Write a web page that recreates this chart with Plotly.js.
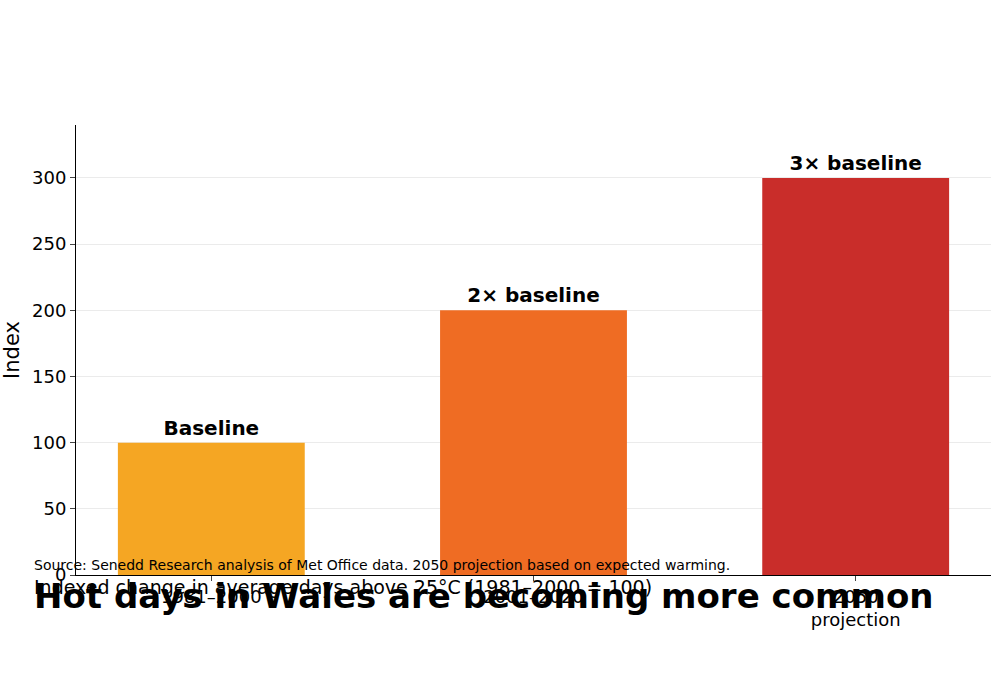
<!DOCTYPE html>
<html><head><meta charset="utf-8">
<script src="https://cdn.plot.ly/plotly-3.0.1.min.js"></script>
<style>body{margin:0}</style></head>
<body><div id="c" style="width:1000px;height:678px"></div>
<script>
const categories = ["1981–2000", "2001–2020", "2050<br>projection"];
const values = [100, 200, 300];
const labels = ["Baseline", "2× baseline", "3× baseline"];
const colors = ["#F5A623", "#EF6C23", "#C92D2A"];
const F = "DejaVu Sans, sans-serif";
Plotly.newPlot("c", [{
  type: "bar", x: categories, y: values, width: 0.58,
  marker: {color: colors},
  text: labels, textposition: "outside", cliponaxis: false,
  textfont: {family: F, size: 20, color: "#000", weight: "bold"},
  hoverinfo: "none"
}], {
  width: 1000, height: 678,
  margin: {l: 76, r: 9, t: 125, b: 103},
  paper_bgcolor: "#fff", plot_bgcolor: "#fff",
  font: {family: F, color: "#000"},
  showlegend: false,
  xaxis: {range: [-0.42, 2.42], showline: true, linecolor: "#000", ticks: "outside", ticklen: 5,
    tickfont: {size: 18}, showgrid: false},
  yaxis: {range: [0, 340], showline: true, linecolor: "#000", ticks: "outside", ticklen: 5,
    tickvals: [0, 50, 100, 150, 200, 250, 300], tickfont: {size: 18},
    gridcolor: "#ebebeb", zeroline: false,
    title: {text: "Index", font: {size: 21}, standoff: 12}},
  annotations: [
    {xref: "paper", yref: "container", x: -0.048, y: 1.0, xanchor: "left", yanchor: "top",
     showarrow: false, text: "<b>Hot days in Wales are becoming more common</b>", font: {size: 34}},
    {xref: "paper", yref: "container", x: -0.048, y: 0.925, xanchor: "left", yanchor: "top",
     showarrow: false, text: "Indexed change in average days above 25°C (1981–2000 = 100)", font: {size: 19}},
    {xref: "paper", yref: "container", x: -0.048, y: 0.035, xanchor: "left", yanchor: "bottom",
     showarrow: false, text: "Source: Senedd Research analysis of Met Office data. 2050 projection based on expected warming.", font: {size: 14}}
  ]
}, {staticPlot: true});
</script></body></html>
